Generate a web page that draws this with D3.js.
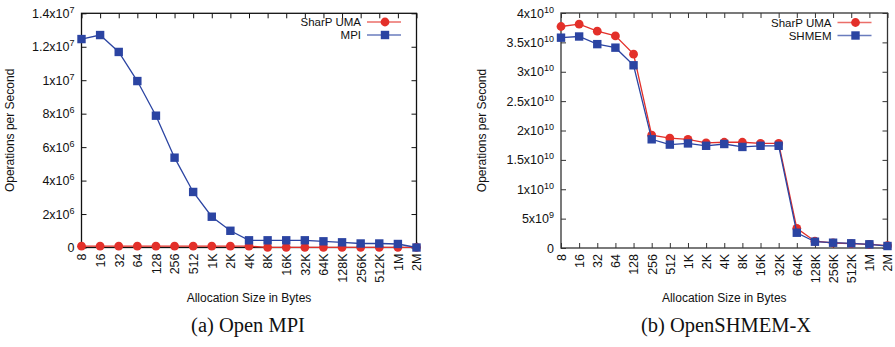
<!DOCTYPE html>
<html>
<head>
<meta charset="utf-8">
<script src="https://cdn.jsdelivr.net/npm/d3@7"></script>
<style>
  body { margin: 0; background: #fff; }
  svg { display: block; }
  text { font-family: "Liberation Sans", Arial, Helvetica, sans-serif; fill: #111; }
</style>
</head>
<body>
<svg id="chart" width="895" height="347"></svg>
<script>
// allocation sizes on the x axis
const sizes = ['8', '16', '32', '64', '128', '256', '512', '1K', '2K', '4K', '8K',
  '16K', '32K', '64K', '128K', '256K', '512K', '1M', '2M'];

// (a) Open MPI
const umaMpi = [8e4, 8e4, 8e4, 8e4, 8e4, 8e4, 8e4, 8e4, 8e4, 8e4,
  1e4, 1e4, 1e4, 1e4, 1e4, 1e4, 1e4, 1e4, 1e4];
const mpi = [1.246e7, 1.27e7, 1.169e7, 0.995e7, 7.88e6, 5.37e6, 3.32e6, 1.84e6, 1.0e6, 4.3e5,
  4.3e5, 4.3e5, 4.3e5, 3.7e5, 3.1e5, 2.4e5, 2.4e5, 2.1e5, 0];
const mpiTicks = [0, 2e6, 4e6, 6e6, 8e6, 1e7, 1.2e7, 1.4e7];
const mpiTickLabels = ['0', '2x10^6', '4x10^6', '6x10^6', '8x10^6', '1x10^7', '1.2x10^7', '1.4x10^7'];

// (b) OpenSHMEM-X
const umaShmem = [3.77e10, 3.81e10, 3.69e10, 3.61e10, 3.30e10, 1.92e10, 1.87e10, 1.85e10, 1.79e10, 1.80e10,
  1.80e10, 1.78e10, 1.78e10, 0.335e10, 0.115e10, 0.085e10, 0.075e10, 0.06e10, 0.04e10];
const shmem = [3.58e10, 3.60e10, 3.47e10, 3.41e10, 3.11e10, 1.85e10, 1.76e10, 1.78e10, 1.74e10, 1.77e10,
  1.72e10, 1.74e10, 1.74e10, 0.26e10, 0.107e10, 0.09e10, 0.08e10, 0.063e10, 0.034e10];
const shmemTicks = [0, 5e9, 1e10, 1.5e10, 2e10, 2.5e10, 3e10, 3.5e10, 4e10];
const shmemTickLabels = ['0', '5x10^9', '1x10^10', '1.5x10^10', '2x10^10', '2.5x10^10', '3x10^10', '3.5x10^10', '4x10^10'];

const red = '#e3302a';
const blue = '#2b44a2';

const svg = d3.select('#chart');

// writes "mx10^e" as text with a raised exponent
function supText(text, label) {
  text.text(null);
  const parts = label.split('^');
  text.append('tspan').text(parts[0]);
  if (parts.length > 1) {
    text.append('tspan').attr('dy', -5).attr('font-size', '9px').text(parts[1]);
  }
}

function drawPanel(p) {
  const x = d3.scalePoint().domain(sizes).range([p.left, p.right]);
  const y = d3.scaleLinear().domain([0, p.ticks[p.ticks.length - 1]]).range([p.bottom, p.top]);
  const g = svg.append('g');

  const bottomAxis = g.append('g')
    .attr('transform', `translate(0,${p.bottom})`)
    .call(d3.axisBottom(x).tickSize(-5).tickSizeOuter(0));
  bottomAxis.selectAll('text')
    .attr('transform', 'rotate(-90)')
    .attr('text-anchor', 'end')
    .attr('x', -6)
    .attr('y', 0)
    .attr('dy', '0.35em')
    .attr('font-size', '12.5px');

  g.append('g')
    .attr('transform', `translate(0,${p.top})`)
    .call(d3.axisTop(x).tickSize(-5).tickSizeOuter(0).tickFormat(''));

  const leftAxis = g.append('g')
    .attr('transform', `translate(${p.left},0)`)
    .call(d3.axisLeft(y).tickValues(p.ticks).tickSize(-5).tickSizeOuter(0).tickPadding(7));
  leftAxis.selectAll('text')
    .attr('font-size', '12.5px')
    .each(function(d, i) { supText(d3.select(this), p.tickLabels[i]); });

  g.append('g')
    .attr('transform', `translate(${p.right},0)`)
    .call(d3.axisRight(y).tickValues(p.ticks).tickSize(-5).tickSizeOuter(0).tickFormat(''));

  g.selectAll('.domain').remove();
  g.selectAll('.tick line').attr('stroke', p.axisColor);
  g.selectAll('.tick text').attr('fill', '#111').style('font-family', '"Liberation Sans", Arial, sans-serif');

  g.append('rect')
    .attr('x', p.left).attr('y', p.top)
    .attr('width', p.right - p.left).attr('height', p.bottom - p.top)
    .attr('fill', 'none').attr('stroke', p.axisColor).attr('stroke-width', 1.3);

  const line = d3.line().x((d, i) => x(sizes[i])).y(d => y(d));

  p.series.forEach(s => {
    g.append('path').datum(s.values)
      .attr('d', line)
      .attr('fill', 'none')
      .attr('stroke', s.color)
      .attr('stroke-width', 1.3);
    drawMarkers(g, s, s.values.map((v, i) => [x(sizes[i]), y(v)]));
  });

  // legend
  p.series.forEach((s, i) => {
    const by = p.legendY + i * 13;
    g.append('text')
      .attr('x', p.legendX).attr('y', by)
      .attr('text-anchor', 'end')
      .attr('font-size', '11.5px')
      .text(s.name);
    g.append('line')
      .attr('x1', p.legendX + 6).attr('x2', p.legendX + 40)
      .attr('y1', by - 4).attr('y2', by - 4)
      .attr('stroke', s.color).attr('stroke-opacity', 0.7).attr('stroke-width', 1.5);
    drawMarkers(g, s, [[p.legendX + 24, by - 4]]);
  });

  g.append('text')
    .attr('x', (p.left + p.right) / 2).attr('y', 302)
    .attr('text-anchor', 'middle')
    .attr('font-size', '12px')
    .text('Allocation Size in Bytes');

  g.append('text')
    .attr('transform', `translate(${p.titleX},${(p.top + p.bottom) / 2}) rotate(-90)`)
    .attr('text-anchor', 'middle')
    .attr('font-size', '12px')
    .text('Operations per Second');

  g.append('text')
    .attr('x', p.captionX).attr('y', 332)
    .attr('text-anchor', 'middle')
    .style('font-family', '"Liberation Serif", "Times New Roman", serif')
    .attr('font-size', '20.5px')
    .text(p.caption);
}

function drawMarkers(g, s, pts) {
  if (s.shape === 'circle') {
    g.append('g').selectAll('circle').data(pts).join('circle')
      .attr('cx', d => d[0]).attr('cy', d => d[1]).attr('r', 4.4)
      .attr('fill', s.color);
  } else {
    g.append('g').selectAll('rect').data(pts).join('rect')
      .attr('x', d => d[0] - 4.2).attr('y', d => d[1] - 4.2)
      .attr('width', 8.4).attr('height', 8.4)
      .attr('fill', s.color);
  }
}

drawPanel({
  left: 81.5, right: 416.5, top: 13.3, bottom: 247.5,
  ticks: mpiTicks, tickLabels: mpiTickLabels, axisColor: '#111',
  legendX: 361, legendY: 26, titleX: 13.5, captionX: 248, caption: '(a) Open MPI',
  series: [
    {name: 'SharP UMA', values: umaMpi, color: red, shape: 'circle'},
    {name: 'MPI', values: mpi, color: blue, shape: 'square'}
  ]
});

drawPanel({
  left: 561, right: 887.5, top: 13, bottom: 248,
  ticks: shmemTicks, tickLabels: shmemTickLabels, axisColor: '#333',
  legendX: 831.5, legendY: 26.5, titleX: 485.5, captionX: 726, caption: '(b) OpenSHMEM-X',
  series: [
    {name: 'SharP UMA', values: umaShmem, color: red, shape: 'circle'},
    {name: 'SHMEM', values: shmem, color: blue, shape: 'square'}
  ]
});
</script>
</body>
</html>
